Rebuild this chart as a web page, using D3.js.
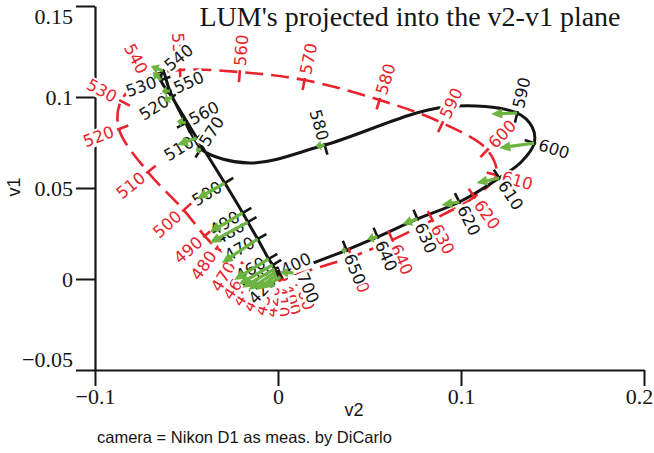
<!DOCTYPE html>
<html>
<head>
<meta charset="utf-8">
<script src="https://cdn.jsdelivr.net/npm/d3@7"></script>
<style>
  body { margin: 0; background: #fff; }
</style>
</head>
<body>
<script>
// spectral locus (red, dashed) projected into v2-v1
const redNm = [400, 410, 420, 430, 440, 450, 460, 470, 480, 490, 500, 510, 520, 530, 540, 550, 560, 570, 580, 590, 600, 610, 620, 630, 640, 650, 700];
const redV2 = [0.0036, 0.0009, -0.0018, -0.0045, -0.0078, -0.0116, -0.0165, -0.0236, -0.0335, -0.0400, -0.0515, -0.0711, -0.0869, -0.0858, -0.0722, -0.0536, -0.0209, 0.0145, 0.0555, 0.0898, 0.1144, 0.1193, 0.1073, 0.0844, 0.0625, 0.0402, 0.0107];
const redV1 = [0.0000, -0.0005, -0.0005, 0.0000, 0.0011, 0.0033, 0.0066, 0.0115, 0.0170, 0.0236, 0.0379, 0.0588, 0.0824, 0.0978, 0.1104, 0.1148, 0.1137, 0.1093, 0.0984, 0.0857, 0.0709, 0.0571, 0.0451, 0.0324, 0.0215, 0.0121, 0.0027];

// camera locus (black)
const blackNm = [400, 410, 420, 430, 440, 450, 460, 470, 480, 490, 500, 510, 520, 530, 540, 550, 560, 570, 575, 580, 585, 590, 595, 600, 605, 610, 620, 630, 640, 650, 700];
const blackV2 = [0.0085, 0.0015, -0.0007, -0.0013, -0.0018, -0.0029, -0.0051, -0.0111, -0.0165, -0.0193, -0.0291, -0.0444, -0.0580, -0.0640, -0.0629, -0.0591, -0.0504, -0.0422, -0.0155, 0.0255, 0.0909, 0.1307, 0.1389, 0.1400, 0.1329, 0.1209, 0.0991, 0.0762, 0.0544, 0.0375, 0.0118];
const blackV1 = [0.0033, 0.0011, 0.0022, 0.0038, 0.0055, 0.0077, 0.0110, 0.0220, 0.0313, 0.0363, 0.0527, 0.0775, 0.1000, 0.1093, 0.1143, 0.1033, 0.0857, 0.0714, 0.0637, 0.0736, 0.0945, 0.0912, 0.0835, 0.0747, 0.0643, 0.0555, 0.0423, 0.0330, 0.0231, 0.0159, 0.0055];

// green arrows: start on the black locus, end here
const arrowNm = [400, 410, 420, 430, 440, 450, 460, 470, 480, 490, 500, 510, 520, 530, 540, 550, 560, 570, 580, 590, 600, 610, 620, 630, 640, 650];
const arrowV2 = [0.0009, -0.0080, -0.0118, -0.0160, -0.0195, -0.0215, -0.0240, -0.0307, -0.0373, -0.0373, -0.0444, -0.0553, -0.0624, -0.0684, -0.0695, -0.0635, -0.0553, -0.0449, 0.0205, 0.1165, 0.1209, 0.1084, 0.0893, 0.0680, 0.0489, 0.0347];
const arrowV1 = [0.0038, -0.0050, -0.0060, -0.0058, -0.0048, -0.0030, -0.0005, 0.0088, 0.0198, 0.0258, 0.0440, 0.0736, 0.0978, 0.1137, 0.1170, 0.1033, 0.0868, 0.0703, 0.0731, 0.0907, 0.0720, 0.0527, 0.0407, 0.0302, 0.0220, 0.0154];

const xTicks = [-0.1, 0, 0.1, 0.2];
const xTickLabels = ["\u22120.1", "0", "0.1", "0.2"];
const yTicks = [-0.05, 0, 0.05, 0.1, 0.15];
const yTickLabels = ["\u22120.05", "0", "0.05", "0.1", "0.15"];

const width = 654, height = 453;
const RED = "#e8232b", BLACK = "#151515", GREEN = "#6cb33f";

const svg = d3.select("body").append("svg")
    .attr("width", width)
    .attr("height", height);

const x = d3.scaleLinear().domain([-0.1, 0.2]).range([95, 644]);
const y = d3.scaleLinear().domain([-0.05, 0.15]).range([370, 6]);

// ---- axes ----
const minorX = d3.range(-0.1, 0.2001, 0.02);
const minorY = d3.range(-0.05, 0.1501, 0.01);

const gx = svg.append("g").attr("transform", `translate(0,${y(-0.05)})`);
gx.call(d3.axisBottom(x).tickValues(minorX).tickSize(10).tickSizeOuter(0).tickFormat(""));
gx.call(d3.axisBottom(x).tickValues(xTicks).tickSize(16).tickSizeOuter(0).tickFormat((d, i) => xTickLabels[i]));
gx.selectAll("text")
    .attr("y", 18)
    .attr("dy", "0.71em")
    .attr("dx", d => d === 0.2 ? -5 : 0)
    .attr("font-family", "'Liberation Serif', 'Times New Roman', serif")
    .attr("font-size", 22)
    .attr("fill", BLACK);

const gy = svg.append("g").attr("transform", `translate(${x(-0.1)},0)`);
gy.call(d3.axisLeft(y).tickValues(minorY).tickSize(10).tickSizeOuter(0).tickFormat(""));
gy.call(d3.axisLeft(y).tickValues(yTicks).tickSize(19).tickSizeOuter(0).tickFormat((d, i) => yTickLabels[i]));
gy.selectAll("text")
    .attr("x", -22)
    .attr("dy", d => d === 0.15 ? "0.8em" : d === -0.05 ? "-0.15em" : "0.32em")
    .attr("font-family", "'Liberation Serif', 'Times New Roman', serif")
    .attr("font-size", 22)
    .attr("fill", BLACK);

svg.selectAll(".domain, .tick line")
    .attr("stroke", BLACK)
    .attr("stroke-width", 2);
svg.selectAll(".domain").attr("stroke-width", 2.2);

// ---- titles ----
svg.append("text")
    .attr("x", 410)
    .attr("y", 26)
    .attr("text-anchor", "middle")
    .attr("font-family", "'Liberation Serif', 'Times New Roman', serif")
    .attr("font-size", 28)
    .attr("fill", BLACK)
    .text("LUM's projected into the v2-v1 plane");

svg.append("text")
    .attr("x", 354)
    .attr("y", 416)
    .attr("text-anchor", "middle")
    .attr("font-family", "'Liberation Sans', Arial, sans-serif")
    .attr("font-size", 18)
    .attr("fill", BLACK)
    .text("v2");

svg.append("text")
    .attr("transform", "translate(20,187) rotate(-90)")
    .attr("text-anchor", "middle")
    .attr("font-family", "'Liberation Sans', Arial, sans-serif")
    .attr("font-size", 18)
    .attr("fill", BLACK)
    .text("v1");

svg.append("text")
    .attr("x", 97)
    .attr("y", 443)
    .attr("font-family", "'Liberation Sans', Arial, sans-serif")
    .attr("font-size", 16.5)
    .attr("fill", BLACK)
    .text("camera = Nikon D1 as meas. by DiCarlo");

// ---- loci ----
function locus(nm, v2, v1) {
    const pts = nm.map((w, i) => ({ w, x: x(v2[i]), y: y(v1[i]) }));
    const n = pts.length;
    pts.forEach((p, i) => {
        const a = pts[(i - 1 + n) % n], b = pts[(i + 1) % n];
        const tx = b.x - a.x, ty = b.y - a.y, L = Math.hypot(tx, ty);
        p.nx = ty / L;   // outward normal
        p.ny = -tx / L;
    });
    return pts;
}

const redPts = locus(redNm, redV2, redV1);
const blackPts = locus(blackNm, blackV2, blackV1);

const line = d3.line()
    .x(d => d.x)
    .y(d => d.y)
    .curve(d3.curveCatmullRomClosed.alpha(0.5));

svg.append("path")
    .datum(redPts)
    .attr("d", line)
    .attr("fill", "none")
    .attr("stroke", RED)
    .attr("stroke-width", 2.6)
    .attr("stroke-dasharray", "18,8");

svg.append("path")
    .datum(blackPts)
    .attr("d", line)
    .attr("fill", "none")
    .attr("stroke", BLACK)
    .attr("stroke-width", 3);

function drawTicks(pts, color) {
    svg.append("g").selectAll("line")
        .data(pts.filter(p => p.w % 10 === 0))
        .join("line")
        .attr("x1", p => p.x + p.nx * 2)
        .attr("y1", p => p.y + p.ny * 2)
        .attr("x2", p => p.x - p.nx * 10)
        .attr("y2", p => p.y - p.ny * 10)
        .attr("stroke", color)
        .attr("stroke-width", 2.6);
}
drawTicks(redPts, RED);
drawTicks(blackPts, BLACK);

// labels sit outside the locus, on a white patch
const labelNudge = {
    black: {
        400: { angle: -25, dx: -12, dy: -2, anchor: "start" },
        410: { angle: -30, dx: -6, dy: 3, anchor: "end" }
    },
    red: {}
};

function drawLabels(pts, color, key, gap) {
    const layer = svg.append("g");
    pts.filter(p => p.w % 10 === 0).forEach(p => {
        let ang = Math.atan2(p.ny, p.nx) * 180 / Math.PI;
        let anchor = "start";
        let px = p.x + p.nx * gap, py = p.y + p.ny * gap;
        const nudge = labelNudge[key][p.w];
        if (nudge) {
            ang = nudge.angle;
            anchor = nudge.anchor;
            px = p.x + nudge.dx;
            py = p.y + nudge.dy;
        } else if (ang > 90 || ang < -90) {
            ang += ang > 0 ? -180 : 180;
            anchor = "end";
        }
        const g = layer.append("g")
            .attr("transform", `translate(${px},${py}) rotate(${ang})`);
        const t = g.append("text")
            .attr("text-anchor", anchor)
            .attr("dominant-baseline", "central")
            .attr("font-family", "'DejaVu Sans', sans-serif")
            .attr("font-size", 16.5)
            .attr("fill", color)
            .text(p.w);
        const b = t.node().getBBox();
        g.insert("rect", "text")
            .attr("x", b.x - 1)
            .attr("y", b.y + 1)
            .attr("width", b.width + 2)
            .attr("height", b.height - 2)
            .attr("fill", "#fff");
    });
}
drawLabels(redPts, RED, "red", 6);
drawLabels(blackPts, BLACK, "black", 5);

// ---- green arrows ----
const arrows = arrowNm.map((w, i) => {
    const s = blackPts.find(p => p.w === w);
    return { x0: s.x, y0: s.y, x1: x(arrowV2[i]), y1: y(arrowV1[i]) };
});

function arrowShape(a) {
    const dx = a.x1 - a.x0, dy = a.y1 - a.y0, L = Math.hypot(dx, dy);
    const ux = dx / L, uy = dy / L, vx = -uy, vy = ux;
    const hl = Math.min(11, L * 0.6), hw = 5, sw = 1.6;
    const bx = a.x1 - ux * hl, by = a.y1 - uy * hl;
    const p = [
        [a.x0 + vx * sw, a.y0 + vy * sw],
        [bx + vx * sw, by + vy * sw],
        [bx + vx * hw, by + vy * hw],
        [a.x1, a.y1],
        [bx - vx * hw, by - vy * hw],
        [bx - vx * sw, by - vy * sw],
        [a.x0 - vx * sw, a.y0 - vy * sw]
    ];
    return "M" + p.map(q => q.join(",")).join("L") + "Z";
}

svg.append("g").selectAll("path")
    .data(arrows)
    .join("path")
    .attr("d", arrowShape)
    .attr("fill", GREEN);
</script>
</body>
</html>
